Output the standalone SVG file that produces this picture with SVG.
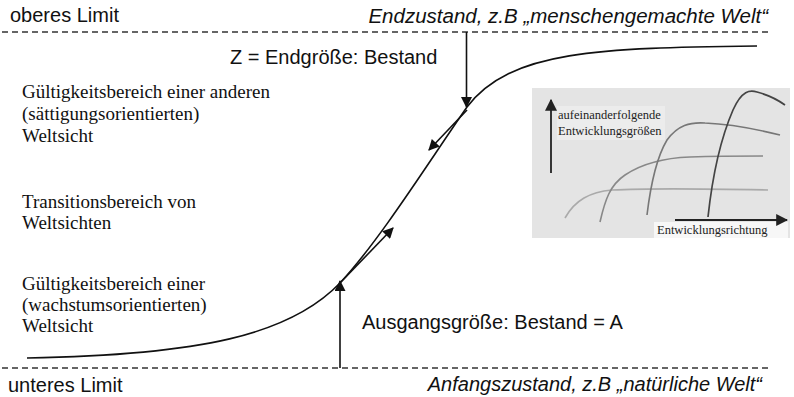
<svg xmlns="http://www.w3.org/2000/svg" width="794" height="397" viewBox="0 0 794 397">
<defs>
<marker id="ah" viewBox="0 0 10 10" refX="9" refY="5" markerWidth="12" markerHeight="11" markerUnits="userSpaceOnUse" orient="auto">
<path d="M0,0 L10,5 L0,10 Z" fill="#111"/>
</marker>
<marker id="ahs" viewBox="0 0 10 10" refX="9" refY="5" markerWidth="12" markerHeight="12" markerUnits="userSpaceOnUse" orient="auto">
<path d="M0,0 L10,5 L0,10 Z" fill="#222"/>
</marker>
</defs>
<style>
.sans{font-family:"Liberation Sans",Arial,sans-serif;font-size:20px;fill:#111}
.it{font-style:italic}
.serif{font-family:"Liberation Serif","Times New Roman",serif;font-size:19px;fill:#111}
.small{font-family:"Liberation Serif","Times New Roman",serif;font-size:12.5px;fill:#222}
.dash{stroke:#333;stroke-width:1.5;stroke-dasharray:6 4;fill:none}
.ln{stroke:#111;stroke-width:1.6;fill:none}
</style>
<rect width="794" height="397" fill="#fff"/>

<g id="limits">
<line class="dash" x1="2" y1="32" x2="770" y2="32"/>
<line class="dash" x1="2" y1="368" x2="768" y2="368"/>
<text class="sans" x="10" y="22">oberes Limit</text>
<text class="sans it" x="768" y="23" text-anchor="end" style="font-size:20.5px">Endzustand, z.B „menschengemachte Welt“</text>
<text class="sans" x="8" y="392">unteres Limit</text>
<text class="sans it" x="762" y="391" text-anchor="end">Anfangszustand, z.B „natürliche Welt“</text>
</g>

<g id="curve">
<path class="ln" d="M27,358 C200,355 290,335 340,283 C380,240 430,160 467,107 C510,50 600,48 757,46"/>
</g>

<g id="labels">
<text class="sans" x="230" y="64">Z = Endgröße: Bestand</text>
<text class="sans" x="362" y="329">Ausgangsgröße: Bestand = A</text>
<text class="serif" x="22" y="98">Gültigkeitsbereich einer anderen</text>
<text class="serif" x="22" y="120">(sättigungsorientierten)</text>
<text class="serif" x="22" y="142">Weltsicht</text>
<text class="serif" x="22" y="208">Transitionsbereich von</text>
<text class="serif" x="22" y="229">Weltsichten</text>
<text class="serif" x="22" y="290">Gültigkeitsbereich einer</text>
<text class="serif" x="22" y="311">(wachstumsorientierten)</text>
<text class="serif" x="22" y="332">Weltsicht</text>
</g>

<g id="connectors">
<line class="ln" x1="466.5" y1="32" x2="466.5" y2="107" marker-end="url(#ah)"/>
<line class="ln" x1="467" y1="110" x2="429" y2="150" marker-end="url(#ah)"/>
<line class="ln" x1="340" y1="368" x2="340" y2="281" marker-end="url(#ah)"/>
<line class="ln" x1="340" y1="283" x2="393" y2="228" marker-end="url(#ah)"/>
</g>

<g id="inset">
<rect x="532" y="88" width="258" height="150" fill="#e4e4e4"/>
<rect x="557" y="106" width="108" height="34" fill="#ececec"/>
<rect x="654" y="222" width="134" height="16" fill="#f7f7f7"/>
<line x1="551" y1="173" x2="551" y2="100" stroke="#222" stroke-width="1.8" marker-end="url(#ahs)"/>
<line x1="675" y1="220" x2="787" y2="220" stroke="#222" stroke-width="1.8" marker-end="url(#ahs)"/>
<path d="M565,218 C575,200 590,192 612,190 C650,188 720,189 768,190" stroke="#aaa" stroke-width="1.6" fill="none"/>
<path d="M600,222 C605,200 610,185 625,175 C640,165 660,158 690,157 C720,156 745,156 763,156" stroke="#888" stroke-width="1.6" fill="none"/>
<path d="M647,215 C650,190 655,160 667,140 C678,125 690,122 705,123 C730,124 760,130 780,135" stroke="#777" stroke-width="1.6" fill="none"/>
<path d="M708,217 C712,180 720,140 733,110 C742,90 750,90 757,92 C768,95 778,100 785,105" stroke="#444" stroke-width="1.7" fill="none"/>
<text class="small" x="558" y="119">aufeinanderfolgende</text>
<text class="small" x="558" y="135">Entwicklungsgrößen</text>
<text class="small" x="657" y="234">Entwicklungsrichtung</text>
</g>
</svg>
